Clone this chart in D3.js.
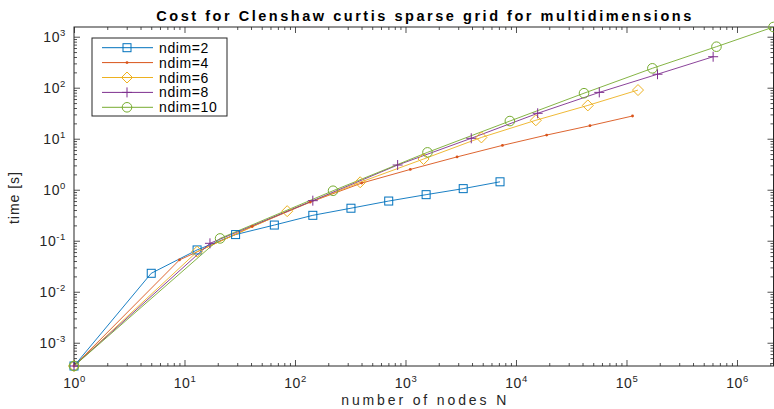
<!DOCTYPE html>
<html>
<head>
<meta charset="utf-8">
<script src="https://cdn.jsdelivr.net/npm/d3@7"></script>
<style>
  body { margin: 0; background: #fff; }
  svg { display: block; font-family: "Liberation Sans", Arial, sans-serif; }
</style>
</head>
<body>
<svg id="chart" width="774" height="409"></svg>
<script>
// number of nodes N and time [s] for each dimension
const nodes2 = [1, 5, 13, 29, 65, 145, 321, 705, 1537, 3329, 7169];
const time2 = [3.5e-4, 0.023, 0.066, 0.132, 0.203, 0.315, 0.434, 0.6, 0.8, 1.05, 1.43];

const nodes4 = [1, 9, 41, 137, 401, 1105, 2929, 7537, 18945, 46721, 113409];
const time4 = [3.5e-4, 0.042, 0.19, 0.57, 1.35, 2.5, 4.4, 7.4, 11.8, 18, 27.9];

const nodes6 = [1, 13, 85, 389, 1457, 4865, 15121, 44689, 127105];
const time6 = [3.5e-4, 0.061, 0.38, 1.4, 4.0, 10.6, 23, 45, 90];

const nodes8 = [1, 17, 145, 849, 3937, 15713, 56737, 190881, 608193];
const time8 = [3.5e-4, 0.089, 0.61, 3.05, 10.2, 31.5, 81, 184, 405];

const nodes10 = [1, 21, 221, 1581, 8801, 41265, 171425, 652065, 2140000];
const time10 = [3.5e-4, 0.111, 0.955, 5.4, 22.2, 78, 240, 637, 1550];

const seriesNames = ["ndim=2", "ndim=4", "ndim=6", "ndim=8", "ndim=10"];
const seriesColors = ["#0072BD", "#D95319", "#EDB120", "#7E2F8E", "#77AC30"];
const seriesMarkers = ["square", "dot", "diamond", "plus", "circle"];

const xTickExponents = [0, 1, 2, 3, 4, 5, 6];
const yTickExponents = [-3, -2, -1, 0, 1, 2, 3];

const titleText = "Cost for Clenshaw curtis sparse grid for multidimensions";
const xLabelText = "number of nodes N";
const yLabelText = "time [s]";

const series = [
  [nodes2, time2],
  [nodes4, time4],
  [nodes6, time6],
  [nodes8, time8],
  [nodes10, time10],
].map(([n, t], i) => ({
  name: seriesNames[i],
  color: seriesColors[i],
  marker: seriesMarkers[i],
  values: n.map((d, j) => ({ n: d, t: t[j] })),
}));

const W = 774, H = 409;
const margin = { top: 27, right: 0.5, bottom: 43, left: 74 };
const innerW = W - margin.left - margin.right;
const innerH = H - margin.top - margin.bottom;
const axisColor = "#262626";

const allN = series.flatMap((s) => s.values.map((d) => d.n));
const allT = series.flatMap((s) => s.values.map((d) => d.t));

const x = d3.scaleLog().domain(d3.extent(allN)).range([0, innerW]);
const y = d3.scaleLog().domain(d3.extent(allT)).range([innerH, 0]);

const svg = d3.select("#chart");
svg.append("rect").attr("width", W).attr("height", H).attr("fill", "#fff");

svg.append("defs").append("clipPath").attr("id", "plot-clip")
  .append("rect").attr("width", innerW).attr("height", innerH);

const g = svg.append("g").attr("transform", `translate(${margin.left},${margin.top})`);

// minor tick values on the log axes
function minorTicks(scale) {
  const [lo, hi] = scale.domain();
  const out = [];
  for (let e = Math.floor(Math.log10(lo)); e <= Math.ceil(Math.log10(hi)); e++) {
    for (let k = 2; k <= 9; k++) {
      const v = k * Math.pow(10, e);
      if (v >= lo && v <= hi) out.push(v);
    }
  }
  return out;
}

const xMajor = xTickExponents.map((e) => Math.pow(10, e));
const yMajor = yTickExponents.map((e) => Math.pow(10, e));

function styleAxis(sel) {
  sel.select(".domain").remove();
  sel.selectAll(".tick line").attr("stroke", axisColor).attr("stroke-width", 0.8);
}

// minor ticks
g.append("g").attr("transform", `translate(0,${innerH})`)
  .call(d3.axisBottom(x).tickValues(minorTicks(x)).tickSize(-3).tickFormat(""))
  .call(styleAxis);
g.append("g")
  .call(d3.axisTop(x).tickValues(minorTicks(x)).tickSize(-3).tickFormat(""))
  .call(styleAxis);
g.append("g")
  .call(d3.axisLeft(y).tickValues(minorTicks(y)).tickSize(-3).tickFormat(""))
  .call(styleAxis);
g.append("g").attr("transform", `translate(${innerW},0)`)
  .call(d3.axisRight(y).tickValues(minorTicks(y)).tickSize(-3).tickFormat(""))
  .call(styleAxis);

// major ticks
function powerLabel(text, e, shift) {
  text.text("10").attr("fill", axisColor).attr("font-size", 14).attr("letter-spacing", 0.6);
  text.append("tspan").attr("dy", shift).attr("font-size", 9.5).text(e);
}

const gx = g.append("g").attr("transform", `translate(0,${innerH})`)
  .call(d3.axisBottom(x).tickValues(xMajor).tickSize(-6))
  .call(styleAxis);
gx.selectAll(".tick text")
  .attr("y", 22).attr("dy", 0).attr("text-anchor", "middle")
  .each(function (d) { powerLabel(d3.select(this), Math.round(Math.log10(d)), -6); });

g.append("g")
  .call(d3.axisTop(x).tickValues(xMajor).tickSize(-6).tickFormat(""))
  .call(styleAxis);

const gy = g.append("g")
  .call(d3.axisLeft(y).tickValues(yMajor).tickSize(-6))
  .call(styleAxis);
gy.selectAll(".tick text")
  .attr("x", -8).attr("dy", 0).attr("y", 5).attr("text-anchor", "end")
  .each(function (d) { powerLabel(d3.select(this), Math.round(Math.log10(d)), -6); });

g.append("g").attr("transform", `translate(${innerW},0)`)
  .call(d3.axisRight(y).tickValues(yMajor).tickSize(-6).tickFormat(""))
  .call(styleAxis);

// box
g.append("rect")
  .attr("width", innerW).attr("height", innerH)
  .attr("fill", "none").attr("stroke", axisColor).attr("stroke-width", 1);

// lines
const line = d3.line().x((d) => x(d.n)).y((d) => y(d.t));

g.append("g").attr("clip-path", "url(#plot-clip)")
  .selectAll("path")
  .data(series)
  .join("path")
  .attr("d", (s) => line(s.values))
  .attr("fill", "none")
  .attr("stroke", (s) => s.color)
  .attr("stroke-width", 0.9);

// markers
function drawMarker(sel, type, color) {
  if (type === "square") {
    sel.append("rect").attr("x", -4).attr("y", -4).attr("width", 8).attr("height", 8)
      .attr("fill", "none").attr("stroke", color).attr("stroke-width", 1);
  } else if (type === "dot") {
    sel.append("circle").attr("r", 1.4).attr("fill", color);
  } else if (type === "diamond") {
    sel.append("path").attr("d", "M0,-5.5L5.5,0L0,5.5L-5.5,0Z")
      .attr("fill", "none").attr("stroke", color).attr("stroke-width", 1);
  } else if (type === "plus") {
    sel.append("path").attr("d", "M-5,0H5M0,-5V5")
      .attr("fill", "none").attr("stroke", color).attr("stroke-width", 1);
  } else if (type === "circle") {
    sel.append("circle").attr("r", 4.8)
      .attr("fill", "none").attr("stroke", color).attr("stroke-width", 1);
  }
}

series.forEach((s) => {
  g.append("g")
    .selectAll("g")
    .data(s.values)
    .join("g")
    .attr("transform", (d) => `translate(${x(d.n)},${y(d.t)})`)
    .each(function () { drawMarker(d3.select(this), s.marker, s.color); });
});

// legend
const legend = svg.append("g").attr("transform", "translate(92,38)");
legend.append("rect")
  .attr("width", 135).attr("height", 78)
  .attr("fill", "#fff").attr("stroke", axisColor).attr("stroke-width", 1);
const item = legend.selectAll(".item")
  .data(series)
  .join("g")
  .attr("class", "item")
  .attr("transform", (d, i) => `translate(0,${9.7 + i * 14.9})`);
item.append("line")
  .attr("x1", 10).attr("x2", 61)
  .attr("stroke", (d) => d.color).attr("stroke-width", 1);
item.append("g").attr("transform", "translate(35,0)")
  .each(function (d) { drawMarker(d3.select(this), d.marker, d.color); });
item.append("text")
  .attr("x", 67).attr("y", 5)
  .attr("font-size", 14).attr("letter-spacing", 0.6)
  .attr("fill", "#000")
  .text((d) => d.name);

// title and axis labels
svg.append("text")
  .attr("x", margin.left + innerW / 2).attr("y", 21)
  .attr("text-anchor", "middle")
  .attr("font-size", 14.5).attr("font-weight", "bold")
  .attr("textLength", 535).attr("lengthAdjust", "spacing")
  .text(titleText);

svg.append("text")
  .attr("x", margin.left + innerW / 2).attr("y", 405)
  .attr("text-anchor", "middle")
  .attr("font-size", 14).attr("fill", axisColor)
  .attr("textLength", 165).attr("lengthAdjust", "spacing")
  .text(xLabelText);

svg.append("text")
  .attr("transform", "translate(19,198) rotate(-90)")
  .attr("text-anchor", "middle")
  .attr("font-size", 14).attr("fill", axisColor)
  .attr("textLength", 52).attr("lengthAdjust", "spacing")
  .text(yLabelText);
</script>
</body>
</html>
